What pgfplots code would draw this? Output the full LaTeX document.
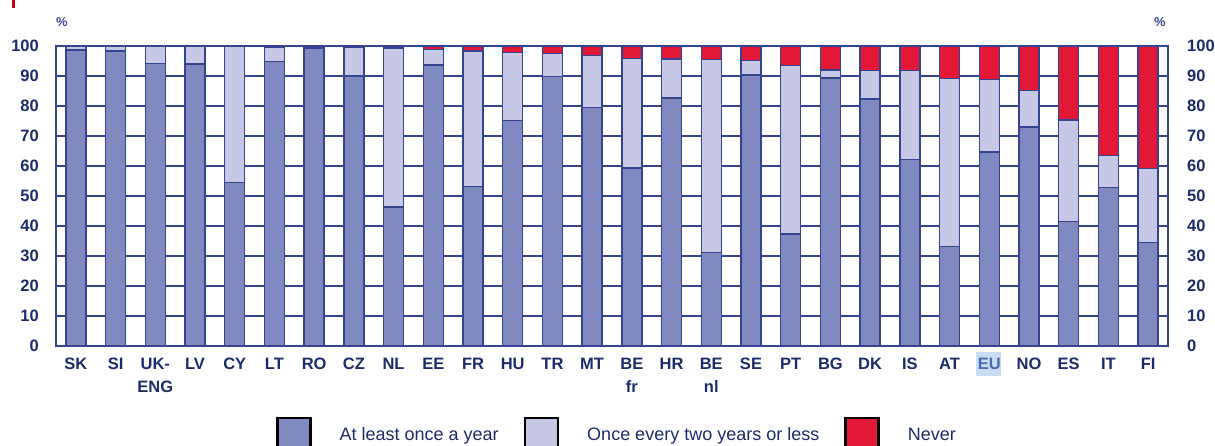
\documentclass[border=0pt]{standalone}
\usepackage{pgfplots}
\pgfplotsset{compat=1.18}
\usepackage{pgfplotstable}
\usepackage{fontspec}
\setmainfont{Liberation Sans}
\definecolor{navy}{HTML}{1C2B69}
\definecolor{barline}{HTML}{34448E}
\definecolor{darkbar}{HTML}{8189C1}
\definecolor{lightbar}{HTML}{C6C8E5}
\definecolor{redbar}{HTML}{E31837}
\definecolor{eubg}{HTML}{C8DCF2}
\definecolor{eutext}{HTML}{4A6AAE}
\definecolor{pct}{HTML}{3A4A8C}
\definecolor{markred}{HTML}{C0001A}

\pgfplotstableread{
x a b c
0 98.7 1.3 0
1 98.3 1.7 0
2 94.2 5.8 0
3 94.0 6.0 0
4 54.6 45.4 0
5 94.8 4.9 0.3
6 99.2 0.5 0.3
7 90.0 9.6 0.4
8 46.4 52.9 0.7
9 93.7 5.2 1.1
10 53.1 45.3 1.6
11 75.1 22.8 2.1
12 89.8 7.8 2.4
13 79.6 17.2 3.2
14 59.4 36.4 4.2
15 82.7 13.0 4.3
16 31.2 64.4 4.4
17 90.4 4.8 4.8
18 37.4 56.2 6.4
19 89.3 2.7 8.0
20 82.4 9.5 8.1
21 62.1 29.7 8.2
22 33.1 56.0 10.9
23 64.7 24.2 11.1
24 73.0 12.1 14.9
25 41.6 33.7 24.7
26 52.8 10.8 36.4
27 34.6 24.5 40.9
}\datatable

\pgfplotsset{mylegend/.style={legend image code/.code={\draw[##1,draw=black,line width=2.5pt] (0pt,-16.5pt) rectangle (33pt,16.5pt);}}}

\begin{document}
\begin{tikzpicture}
\path[use as bounding box] (-56pt,-99pt) rectangle (1159pt,346pt);
\fill[markred] (-44pt,338pt) rectangle (-41pt,346pt);
\node[pct, font=\fontsize{13}{13}\selectfont\bfseries] at (6pt,324pt) {\%};
\node[pct, font=\fontsize{13}{13}\selectfont\bfseries] at (1104pt,324pt) {\%};
\fill[eubg] (919.7pt,-5.7pt) rectangle (944.7pt,-30pt);
\begin{axis}[
  at={(0pt,0pt)}, anchor=south west,
  scale only axis, width=1112pt, height=300pt,
  xmin=-0.5, xmax=27.5, ymin=0, ymax=100,
  ybar stacked, bar width=20pt,
  xtick={0,...,27},
  xticklabels={SK,SI,{UK-\\ENG},LV,CY,LT,RO,CZ,NL,EE,FR,HU,TR,MT,{BE\\fr},HR,{BE\\nl},SE,PT,BG,DK,IS,AT,{\textcolor{eutext}{EU}},NO,ES,IT,FI},
  ytick={0,10,...,100},
  ymajorgrids, grid style={barline, line width=1.5pt},
  axis line style={barline, line width=1.5pt},
  major tick length=0pt, tick style={draw=none},
  xticklabel style={font=\fontsize{16.5}{23}\selectfont\bfseries, text=navy, align=center, anchor=north, inner sep=0pt, yshift=-12pt},
  yticklabel style={font=\fontsize{16.5}{20}\selectfont\bfseries, text=navy, anchor=east, inner sep=0pt, xshift=-17pt},
  /pgf/number format/assume math mode=true,
  clip=false,
  legend columns=3,
  legend style={at={(0.1978,-0.2358)}, anchor=north west, draw=none, fill=none, inner sep=0pt,
    font=\fontsize{18}{20}\selectfont, text=navy,
    /tikz/every odd column/.append style={column sep=28pt},
    /tikz/every even column/.append style={column sep=25pt},
    nodes={inner sep=0pt}},
  every axis plot post/.append style={mylegend},
]
\addplot[fill=darkbar, draw=barline, line width=1.4pt] table[x=x,y=a]{\datatable};
\addlegendentry{At least once a year}
\addplot[fill=lightbar, draw=barline, line width=1.4pt] table[x=x,y=b]{\datatable};
\addlegendentry{Once every two years or less}
\addplot[fill=redbar, draw=barline, line width=1.4pt] table[x=x,y=c]{\datatable};
\addlegendentry{Never}
\end{axis}
\begin{axis}[
  at={(0pt,0pt)}, anchor=south west,
  scale only axis, width=1112pt, height=300pt,
  xmin=-0.5, xmax=27.5, ymin=0, ymax=100,
  hide x axis, axis y line*=right, y axis line style={draw=none},
  ytick={0,10,...,100},
  major tick length=0pt, tick style={draw=none},
  yticklabel style={font=\fontsize{16.5}{20}\selectfont\bfseries, text=navy, anchor=west, inner sep=0pt, xshift=19pt},
  /pgf/number format/assume math mode=true,
]
\end{axis}
\end{tikzpicture}
\end{document}
